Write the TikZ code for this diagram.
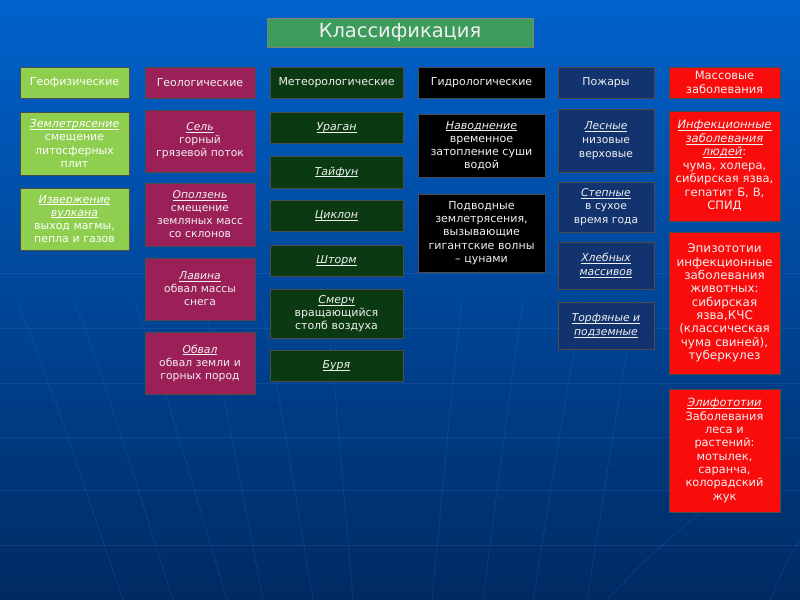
\documentclass[tikz,border=0pt]{standalone}
\usepackage{fontspec}
\setmainfont{DejaVu Sans}
\definecolor{bgtop}{HTML}{0062CC}
\definecolor{bgbot}{HTML}{002A62}
\definecolor{cgrid}{HTML}{3C7CD8}
\definecolor{cgeo}{HTML}{8FCF4F}
\definecolor{cgeol}{HTML}{9C2058}
\definecolor{cmet}{HTML}{0B3A12}
\definecolor{chyd}{HTML}{000000}
\definecolor{cfire}{HTML}{12336E}
\definecolor{cdis}{HTML}{F80C0C}
\definecolor{ctitle}{HTML}{3C9C5C}
\definecolor{ctxt}{HTML}{F0F0F0}
\newcommand\bx[7]{%
 \pgfmathsetmacro\bw{#4-#2}\pgfmathsetmacro\bh{#5-#3}%
 \pgfmathsetmacro\bcx{(#2+#4)/2}\pgfmathsetmacro\bcy{-(#3+#5)/2}%
 \pgfmathsetmacro\btw{#4-#2-4}%
 \node[#6, minimum width=\bw bp, minimum height=\bh bp, text width=\btw bp] (#1) at (\bcx bp,\bcy bp) {#7};}
\newsavebox\utbox
\newcommand\ut[1]{\sbox\utbox{\textit{#1}}\usebox\utbox\llap{\rule[-1.8bp]{\wd\utbox}{0.6bp}}}
\newcommand\fs[2]{\fontsize{#1}{#2}\selectfont}
\tikzset{
 cbox/.style={draw=black!70, line width=0.8bp, inner sep=0pt, align=center,
   text=ctxt, font=\fs{10.8}{13}},
 geo/.style={cbox, fill=cgeo, text=white},
 geol/.style={cbox, fill=cgeol},
 met/.style={cbox, fill=cmet},
 hyd/.style={cbox, fill=chyd},
 fire/.style={cbox, fill=cfire},
 dis/.style={cbox, fill=cdis},
 gridline/.style={draw=cgrid, line width=0.7bp, opacity=0.22},
}
\begin{document}
\begin{tikzpicture}[x=1bp,y=-1bp]
\shade[top color=bgtop, bottom color=bgbot] (0,0) rectangle (800,600);
\useasboundingbox (0,0) rectangle (800,600);
% faint globe grid
\foreach \yy in {273,328,383,437,490,545} \draw[gridline] (0,\yy) -- (800,\yy);
\foreach \xa/\xb in {52/123,107/173,165/227,223/263,278/313,335/353,452/432,510/483,567/533,620/587}
  \draw[gridline] ({\xa-(\xb-\xa)*0.5},300) .. controls ({\xa-(\xb-\xa)*0.05},380) .. (\xb,600);
\draw[gridline] (700,513) .. controls (650,555) .. (607,600);
\draw[gridline] (800,540) .. controls (785,565) .. (770,600);
% title
\bx{title}{267}{18}{533}{47}{cbox, fill=ctitle, draw=black!50, font=\fs{19.5}{22}}{Классификация}
% headers
\bx{h1}{20}{67}{129}{98}{geo, font=\fs{11}{13}}{Геофизические}
\bx{h2}{145}{67}{255}{98}{geol, font=\fs{11}{13}}{Геологические}
\bx{h3}{270}{67}{403}{98}{met, font=\fs{11}{13}}{Метеорологические}
\bx{h4}{418}{67}{545}{98}{hyd, font=\fs{11}{13}}{Гидрологические}
\bx{h5}{558}{67}{654}{98}{fire, font=\fs{11}{13}}{Пожары}
\bx{h6}{669}{67}{780}{98}{dis, font=\fs{11.5}{13.5}}{Массовые\\заболевания}
% column 1
\bx{g1}{20}{112}{129}{175}{geo, font=\fs{11}{13.3}}{\ut{Землетрясение}\\смещение\\литосферных\\плит}
\bx{g2}{20}{188}{129}{250}{geo, font=\fs{11}{13.3}}{\ut{Извержение}\\\ut{вулкана}\\выход магмы,\\пепла и газов}
% column 2
\bx{l1}{145}{110}{255}{172}{geol}{\ut{Сель}\\горный\\грязевой поток}
\bx{l2}{145}{183}{255}{246}{geol}{\ut{Оползень}\\смещение\\земляных масс\\со склонов}
\bx{l3}{145}{258}{255}{320}{geol}{\ut{Лавина}\\обвал массы\\снега}
\bx{l4}{145}{332}{255}{394}{geol}{\ut{Обвал}\\обвал земли и\\горных пород}
% column 3
\bx{m1}{270}{112}{403}{143}{met, font=\fs{11}{13}}{\ut{Ураган}}
\bx{m2}{270}{156}{403}{188}{met, font=\fs{11}{13}}{\ut{Тайфун}}
\bx{m3}{270}{200}{403}{231}{met, font=\fs{11}{13}}{\ut{Циклон}}
\bx{m4}{270}{245}{403}{276}{met, font=\fs{11}{13}}{\ut{Шторм}}
\bx{m5}{270}{289}{403}{338}{met, font=\fs{11}{13}}{\ut{Смерч}\\вращающийся\\столб воздуха}
\bx{m6}{270}{350}{403}{381}{met, font=\fs{11}{13}}{\ut{Буря}}
% column 4
\bx{d1}{418}{114}{545}{177}{hyd, font=\fs{11.1}{13.2}}{\ut{Наводнение}\\временное\\затопление суши\\водой}
\bx{d2}{418}{194}{545}{272}{hyd, font=\fs{11.1}{13.2}}{Подводные\\землетрясения,\\вызывающие\\гигантские волны\\– цунами}
% column 5
\bx{f1}{558}{109}{654}{172}{fire, font=\fs{10.8}{13.8}}{\ut{Лесные}\\низовые\\верховые}
\bx{f2}{558}{182}{654}{232}{fire, font=\fs{10.8}{13.2}}{\ut{Степные}\\в сухое\\время года}
\bx{f3}{558}{242}{654}{289}{fire, font=\fs{10.8}{13.8}}{\ut{Хлебных}\\\ut{массивов}}
\bx{f4}{558}{302}{654}{349}{fire, font=\fs{10.8}{13.8}}{\ut{Торфяные и}\\\ut{подземные}}
% column 6
\bx{s1}{669}{111}{780}{221}{dis, font=\fs{11.6}{13.5}}{\ut{Инфекционные}\\\ut{заболевания}\\\ut{людей}:\\чума, холера,\\сибирская язва,\\гепатит Б, В,\\СПИД}
\bx{s2}{669}{232}{780}{374}{dis, font=\fs{12}{13.4}}{Эпизототии\\инфекционные\\заболевания\\животных:\\сибирская\\язва,КЧС\\(классическая\\чума свиней),\\туберкулез}
\bx{s3}{669}{389}{780}{512}{dis, font=\fs{11.4}{13.4}}{\ut{Элифототии}\\Заболевания\\леса и\\растений:\\мотылек,\\саранча,\\колорадский\\жук}
\end{tikzpicture}
\end{document}
